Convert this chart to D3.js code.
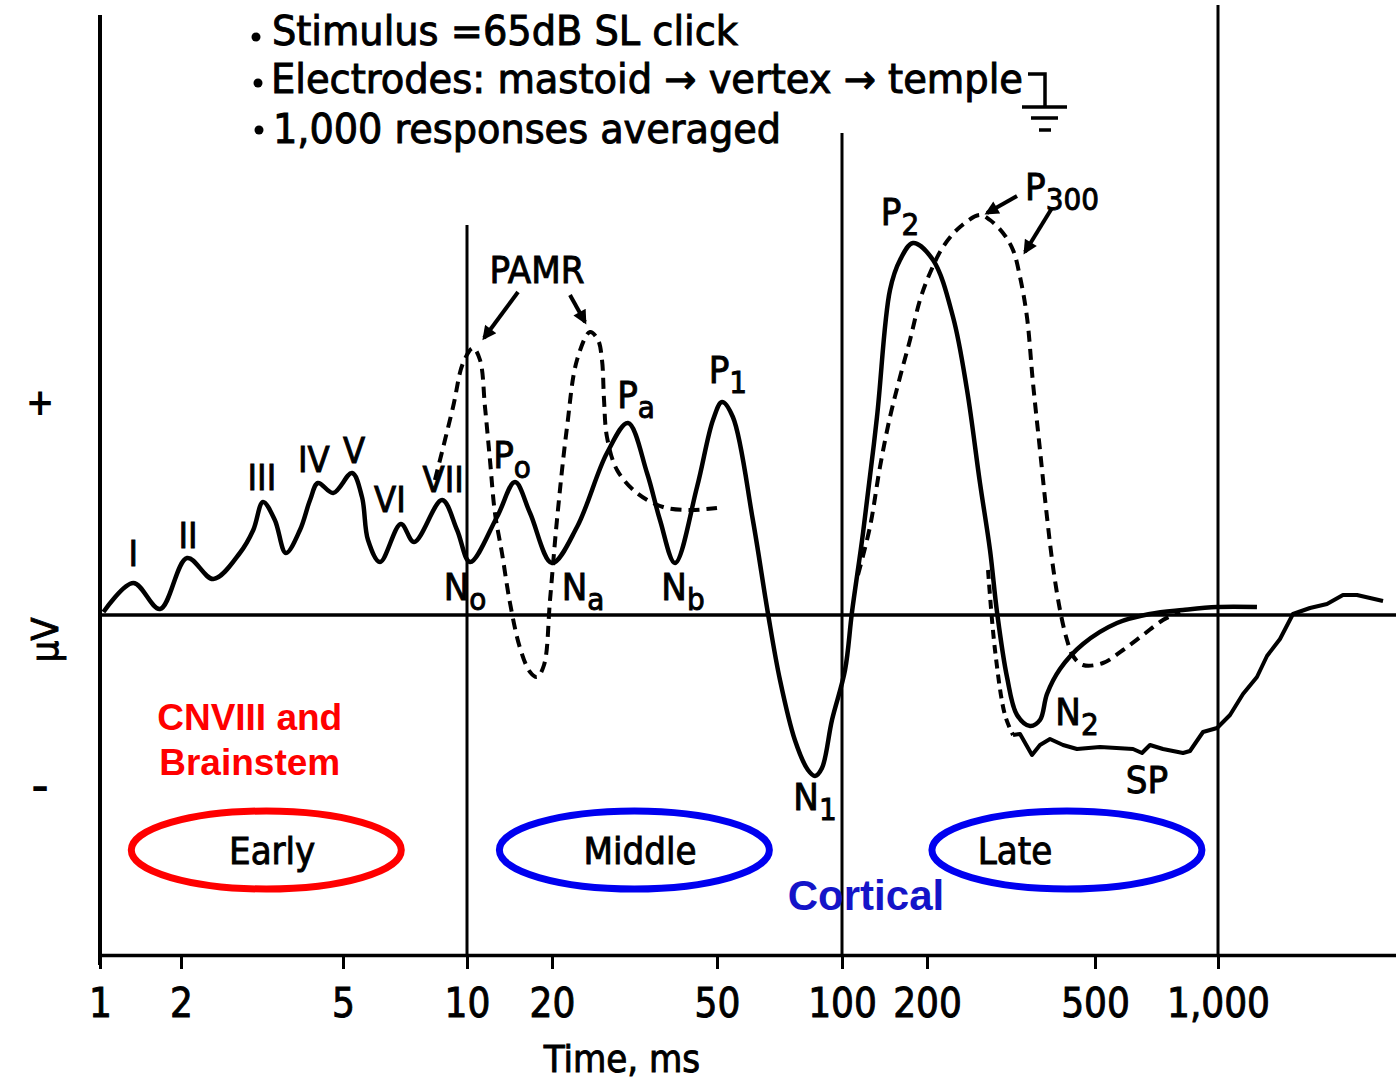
<!DOCTYPE html>
<html>
<head>
<meta charset="utf-8">
<script src="https://cdn.jsdelivr.net/npm/d3@7"></script>
<style>
  body { margin: 0; background: #fff; }
  svg { display: block; }
  text { font-family: "DejaVu Sans Condensed", "DejaVu Sans", sans-serif; fill: #000; }
  .ink { stroke: #000; stroke-width: 0.9px; }
</style>
</head>
<body>
<div id="chart"></div>
<script>
// time axis (ms, log) and tick labels
const tickVals = [1, 2, 5, 10, 20, 50, 100, 200, 500, 1000];
const tickText = ["1", "2", "5", "10", "20", "50", "100", "200", "500", "1,000"];

// main averaged response (solid)
const aepTime = [1.03, 1.33, 1.67, 2.07, 2.40, 2.79, 3.01, 3.18, 3.40, 3.62, 3.92, 4.15, 4.34, 4.73,
  5.26, 5.56, 5.75, 6.15, 6.91, 7.44, 8.70, 9.46, 10.25, 12.77, 14.79, 16.72, 20.0, 22.98, 27.14,
  30.5, 33.9, 36.43, 39.6, 44.75, 48.9, 51.4, 54.6, 61.0, 66.3, 70.9, 77.0, 82.8, 86.1, 89.5, 94.6,
  102.5, 108.5, 118.7, 133.0, 147.9, 160.5, 178.4, 206.7, 230.5, 248.8, 267.0, 282.0, 293.0, 309.4,
  326.8, 350.8, 370.4, 384.8, 413.1, 468.3, 566.0, 681.6, 821.0, 995, 1374];
const aepAmp = [0.03, 0.32, 0.06, 0.57, 0.36, 0.62, 0.85, 1.13, 0.95, 0.62, 0.85, 1.15, 1.32, 1.22,
  1.42, 1.18, 0.75, 0.53, 0.91, 0.73, 1.15, 0.85, 0.53, 0.98, 1.33, 1.02, 0.52, 0.88, 1.62,
  1.92, 1.42, 0.95, 0.52, 1.28, 1.95, 2.13, 1.98, 0.95, 0.02, -0.65, -1.25, -1.55, -1.61, -1.53, -1.05,
  -0.55, 0.03, 0.82, 1.98, 3.25, 3.55, 3.72, 3.55, 2.98, 2.25, 1.32, 0.65, 0.03, -0.62,
  -1.00, -1.11, -1.05, -0.79, -0.54, -0.29, -0.08, 0.01, 0.05, 0.08, 0.08];

// post-auricular muscle response (dashed)
const pamrTime = [8.36, 9.25, 9.78, 10.5, 11.12, 11.58, 12.06, 12.56, 13.3, 14.2, 15.41, 16.72, 17.7,
  18.74, 19.68, 20.56, 21.74, 22.98, 24.7, 25.82, 26.4, 26.7, 27.14, 28.7, 32.06, 37.04, 43.04, 50];
const pamrAmp = [1.35, 2.08, 2.52, 2.67, 2.55, 2.08, 1.55, 1.02, 0.62, 0.12, -0.33, -0.57, -0.62,
  -0.50, 0.15, 0.95, 1.88, 2.55, 2.83, 2.75, 2.55, 2.15, 1.78, 1.45, 1.22, 1.08, 1.05, 1.07];

// P300 (dashed)
const p300Time = [113.9, 125.6, 136.3, 147.9, 160.5, 174.1, 188.9, 203.3, 218.2, 239.4, 267.0, 282.0,
  302.7, 319.7, 332.2, 345.0, 356.5, 370.4, 384.8, 397.7, 413.1, 429.2, 443.5, 468.3, 523.0, 585.5,
  655.3, 733.4, 807.3];
const p300Amp = [0.40, 0.88, 1.48, 1.98, 2.38, 2.75, 3.15, 3.42, 3.68, 3.88, 4.00, 3.95,
  3.82, 3.65, 3.38, 2.98, 2.32, 1.65, 0.98, 0.48, 0.05, -0.25, -0.41, -0.50, -0.48, -0.35,
  -0.20, -0.05, 0.03];

// sustained potential (first 4 points dashed lead-in)
const spTime = [279.0, 289.8, 306.0, 319.7, 332.2, 354.6, 370.4, 391.2, 420.0, 453.2, 514.3, 619.4,
  651.6, 681.6, 733.4, 821.0, 854.0, 918.9, 995, 1103, 1226, 1374, 1491, 1658, 1843, 2079, 2285,
  2497, 2699, 3119];
const spAmp = [0.45, -0.35, -1.00, -1.20, -1.19, -1.40, -1.30, -1.24, -1.30, -1.34, -1.32, -1.34,
  -1.38, -1.30, -1.34, -1.38, -1.36, -1.17, -1.13, -1.00, -0.79, -0.62, -0.41, -0.24, 0.01, 0.07, 0.11,
  0.20, 0.20, 0.14];

// wave labels
const peakText = ["I", "II", "III", "IV", "V", "VI", "VII", "N", "P", "N", "P", "N", "P", "N", "P", "P", "N", "SP", "PAMR"];
const peakSub = ["", "", "", "", "", "", "", "o", "o", "a", "a", "b", "1", "1", "2", "300", "2", "", ""];
const peakTime = [1.33, 2.08, 3.16, 4.24, 5.32, 6.50, 8.75, 9.89, 14.43, 23.76, 31.89, 41.40, 53.1, 86.1, 160.5, 417.6, 453.2, 670, 17.7];
const peakAmp = [0.49, 0.67, 1.25, 1.43, 1.52, 1.03, 1.23, 0.15, 1.47, 0.15, 2.07, 0.15, 2.32, -1.95, 3.90, 4.15, -1.10, -1.78, 3.32];

// pointer arrows (PAMR x2, P300 x2)
const arrowT0 = [15.16, 22.10, 326.8, 395.5];
const arrowV0 = [3.23, 3.20, 4.19, 4.07];
const arrowT1 = [11.49, 24.02, 277.4, 341.3];
const arrowV1 = [2.77, 2.93, 4.02, 3.63];

// latency regions
const regionName = ["Early", "Middle", "Late"];
const regionTime = [3.24, 31.6, 429];
const regionTextTime = [3.35, 32.6, 323.2];
const regionColor = ["#ff0000", "#0000f0", "#0000f0"];

const W = 1396, H = 1085;

const svg = d3.select("#chart")
  .append("svg")
  .attr("width", W)
  .attr("height", H);

// the printed time axis is a slightly warped log scale, so use piecewise log stops
const x = d3.scaleLog()
  .domain([1, 2, 5, 10, 20, 50, 100, 200, 500, 1000, 2000, 5000])
  .range([100, 181, 343, 467, 552, 717, 842, 927, 1095, 1218, 1303, 1468]);

const y = d3.scaleLinear()
  .domain([-3.4, 6.1])
  .range([955, 5]);

// frame: left axis, decade lines, zero line
svg.append("line")
  .attr("x1", x(1)).attr("x2", x(1))
  .attr("y1", y(6.0)).attr("y2", y(-3.5))
  .attr("stroke", "#000").attr("stroke-width", 4);

const decadeTop = [3.9, 4.82, 6.1];
[10, 100, 1000].forEach((d, i) => {
  svg.append("line")
    .attr("x1", x(d)).attr("x2", x(d))
    .attr("y1", y(decadeTop[i])).attr("y2", y(-3.4))
    .attr("stroke", "#000").attr("stroke-width", 3);
});

svg.append("line")
  .attr("x1", x(1)).attr("x2", W)
  .attr("y1", y(0)).attr("y2", y(0))
  .attr("stroke", "#000").attr("stroke-width", 3.5);

// bottom time axis
const xAxis = svg.append("g")
  .attr("transform", "translate(0," + y(-3.4) + ")")
  .call(d3.axisBottom(x)
    .tickValues(tickVals)
    .tickFormat((d, i) => tickText[i])
    .tickSize(14)
    .tickSizeOuter(0)
    .tickPadding(20));
xAxis.select(".domain").attr("stroke-width", 3.5);
xAxis.selectAll(".tick line").attr("stroke-width", 3);
xAxis.selectAll(".tick text")
  .attr("class", "ink")
  .style("font-size", "40px")
  .style("font-family", "'DejaVu Sans Condensed','DejaVu Sans',sans-serif");

svg.append("text")
  .attr("class", "ink")
  .attr("x", 622).attr("y", 1072)
  .attr("text-anchor", "middle")
  .style("font-size", "38px")
  .text("Time, ms");

// y sign marks
svg.append("text")
  .attr("x", 40).attr("y", y(2.12) + 12)
  .attr("text-anchor", "middle")
  .style("font-size", "38px").style("font-weight", "bold")
  .text("+");
svg.append("text")
  .attr("x", 40).attr("y", y(-1.72) + 12)
  .attr("text-anchor", "middle")
  .style("font-size", "38px").style("font-weight", "bold")
  .text("–");
svg.append("text")
  .attr("class", "ink")
  .attr("transform", "translate(58," + y(-0.25) + ") rotate(-90)")
  .attr("text-anchor", "middle")
  .style("font-size", "38px")
  .text("µV");

// curves
const line = d3.line()
  .x(d => x(d[0]))
  .y(d => y(d[1]))
  .curve(d3.curveCatmullRom.alpha(0.5));

svg.append("path")
  .datum(d3.zip(pamrTime, pamrAmp))
  .attr("d", line)
  .attr("fill", "none").attr("stroke", "#000")
  .attr("stroke-width", 4).attr("stroke-dasharray", "11,7");

svg.append("path")
  .datum(d3.zip(p300Time, p300Amp))
  .attr("d", line)
  .attr("fill", "none").attr("stroke", "#000")
  .attr("stroke-width", 4).attr("stroke-dasharray", "11,7");

svg.append("path")
  .datum(d3.zip(spTime.slice(0, 4), spAmp.slice(0, 4)))
  .attr("d", line)
  .attr("fill", "none").attr("stroke", "#000")
  .attr("stroke-width", 4).attr("stroke-dasharray", "9,6");

svg.append("path")
  .datum(d3.zip(spTime.slice(3), spAmp.slice(3)))
  .attr("d", line.curve(d3.curveLinear))
  .attr("fill", "none").attr("stroke", "#000")
  .attr("stroke-width", 4).attr("stroke-linejoin", "round");

line.curve(d3.curveCatmullRom.alpha(0.5));
svg.append("path")
  .datum(d3.zip(aepTime, aepAmp))
  .attr("d", line)
  .attr("fill", "none").attr("stroke", "#000")
  .attr("stroke-width", 4.5).attr("stroke-linejoin", "round");

// wave labels with subscripts
peakText.forEach((t, i) => {
  const lab = svg.append("text")
    .attr("class", "ink")
    .attr("x", x(peakTime[i]))
    .attr("y", y(peakAmp[i]))
    .attr("text-anchor", "middle")
    .style("font-size", i < 7 ? "36px" : "38px")
    .text(t);
  if (peakSub[i]) {
    lab.append("tspan")
      .attr("dy", 10)
      .style("font-size", "31px")
      .text(peakSub[i]);
  }
});

// arrows
svg.append("defs").append("marker")
  .attr("id", "head")
  .attr("viewBox", "0 0 10 10")
  .attr("refX", 8).attr("refY", 5)
  .attr("markerWidth", 16).attr("markerHeight", 14)
  .attr("markerUnits", "userSpaceOnUse")
  .attr("orient", "auto")
  .append("path")
  .attr("d", "M0,0 L10,5 L0,10 z")
  .attr("fill", "#000");

arrowT0.forEach((t, i) => {
  svg.append("line")
    .attr("x1", x(t)).attr("y1", y(arrowV0[i]))
    .attr("x2", x(arrowT1[i])).attr("y2", y(arrowV1[i]))
    .attr("stroke", "#000").attr("stroke-width", 4)
    .attr("marker-end", "url(#head)");
});

// stimulus notes at the top
const notes = [
  {t: "Stimulus =65dB SL click", x: 272, y: 45, len: 466, bx: 256, by: 37},
  {t: "Electrodes: mastoid \u2192 vertex \u2192 temple", x: 271, y: 93, len: 752, bx: 258, by: 83},
  {t: "1,000 responses averaged", x: 273, y: 143, len: 508, bx: 259, by: 130}
];
notes.forEach(n => {
  svg.append("circle").attr("cx", n.bx).attr("cy", n.by).attr("r", 4.5).attr("fill", "#000");
  svg.append("text")
    .attr("class", "ink")
    .attr("x", n.x).attr("y", n.y)
    .attr("textLength", n.len)
    .attr("lengthAdjust", "spacingAndGlyphs")
    .style("font-size", "40px")
    .text(n.t);
});

// ground symbol after "temple"
svg.append("path")
  .attr("d", "M1028,74 H1045 V106 M1022,107 H1067 M1031,118 H1058 M1039,130 H1051")
  .attr("fill", "none").attr("stroke", "#000").attr("stroke-width", 3.5);

// region annotations
svg.append("text")
  .attr("x", x(2.95)).attr("y", y(-1.15))
  .attr("text-anchor", "middle")
  .style("font-family", "'Liberation Sans', Arial, sans-serif")
  .style("font-weight", "bold").style("font-size", "37px")
  .style("fill", "#ff0000")
  .text("CNVIII and");
svg.append("text")
  .attr("x", x(2.95)).attr("y", y(-1.60))
  .attr("text-anchor", "middle")
  .style("font-family", "'Liberation Sans', Arial, sans-serif")
  .style("font-weight", "bold").style("font-size", "37px")
  .style("fill", "#ff0000")
  .text("Brainstem");

regionName.forEach((r, i) => {
  svg.append("ellipse")
    .attr("cx", x(regionTime[i])).attr("cy", y(-2.35))
    .attr("rx", 135).attr("ry", 39)
    .attr("fill", "none")
    .attr("stroke", regionColor[i]).attr("stroke-width", 7);
  svg.append("text")
    .attr("class", "ink")
    .attr("x", x(regionTextTime[i])).attr("y", y(-2.35) + 14)
    .attr("text-anchor", "middle")
    .style("font-size", "38px")
    .text(r);
});

svg.append("text")
  .attr("x", x(121.6)).attr("y", y(-2.95))
  .attr("text-anchor", "middle")
  .style("font-family", "'Liberation Sans', Arial, sans-serif")
  .style("font-weight", "bold").style("font-size", "42px")
  .style("fill", "#1414c8")
  .text("Cortical");
</script>
</body>
</html>
